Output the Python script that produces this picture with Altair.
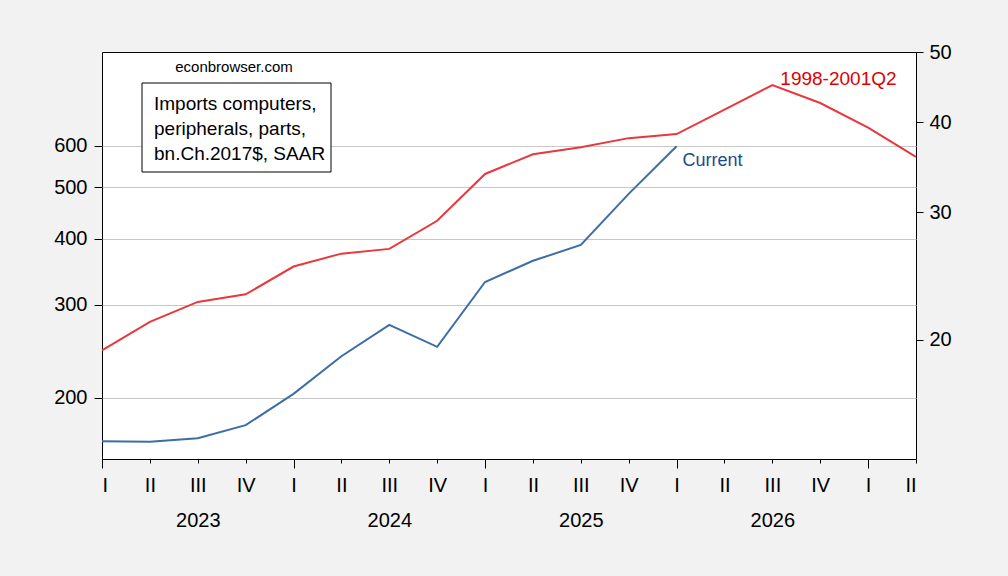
import altair as alt
import pandas as pd

# Quarter index: 0 = 2023Q1 ... 17 = 2027Q2
quarter_idx = list(range(18))

# Real imports of computers, peripherals and parts, bn. chained 2017$, SAAR (left axis)
current = [165.3, 164.9, 167.5, 177.3, 203.2, 239.5, 274.6, 249.5,
           331.0, 363.0, 389.0, 486.0, 598.0]

# Same series over 1998-2001Q2, aligned on the quarter index (right axis)
hist_1998 = [19.33, 21.16, 22.55, 23.10, 25.24, 26.3, 26.7, 29.2, 33.9,
             36.1, 36.9, 38.0, 38.5, 41.6, 45.0, 42.5, 39.3, 35.8]

roman = ["I", "II", "III", "IV"]
year_labels = [2023, 2024, 2025, 2026]
year_pos = [2, 6, 10, 14]
q1_pos = [0, 4, 8, 12, 16]
left_ticks = [200, 300, 400, 500, 600]
right_ticks = [20, 30, 40, 50]

BLUE = "#3d6da6"
RED = "#e8383d"
FONT = "Liberation Sans"

df_cur = pd.DataFrame({"q": quarter_idx[:len(current)], "v": current})
df_hist = pd.DataFrame({"q": quarter_idx, "v": hist_1998})
df_years = pd.DataFrame({"pos": year_pos, "year": year_labels})
df_cur_lbl = pd.DataFrame({"q": [quarter_idx[len(current) - 1]], "v": [current[-1]], "t": ["Current"]})
peak = max(range(len(hist_1998)), key=lambda i: hist_1998[i])
df_hist_lbl = pd.DataFrame({"q": [quarter_idx[peak]], "v": [hist_1998[peak]], "t": ["1998-2001Q2"]})
one = pd.DataFrame({"a": [0]})

xscale = alt.Scale(domain=[0, 17], nice=False, zero=False)
lscale = alt.Scale(type="log", domain=[153, 902], nice=False)
rscale = alt.Scale(type="log", domain=[13.67, 50], nice=False)

roman_expr = "[" + ",".join(f"'{r}'" for r in roman) + "][datum.value % 4]"
year_expr = "'' + (" + str(year_labels[0]) + " + floor(datum.value / 4))"

blue_line = alt.Chart(df_cur).mark_line(color=BLUE, strokeWidth=2).encode(
    x=alt.X("q:Q", scale=xscale, axis=alt.Axis(
        orient="bottom", values=quarter_idx, labelExpr=roman_expr, tickSize=4,
        labelPadding=12, domain=False, grid=False, title=None, labelAngle=0)),
    y=alt.Y("v:Q", scale=lscale, axis=alt.Axis(
        values=left_ticks, orient="left", grid=True, gridColor="#c8c8c8",
        tickSize=8, labelPadding=7, domain=False, title=None)),
)

red_line = alt.Chart(df_hist).mark_line(color=RED, strokeWidth=2).encode(
    x=alt.X("q:Q", scale=xscale, axis=alt.Axis(
        orient="bottom", values=q1_pos, tickSize=9, labels=False,
        domain=False, grid=False, title=None)),
    y=alt.Y("v:Q", scale=rscale, axis=alt.Axis(
        values=right_ticks, orient="right", grid=False, tickSize=7,
        labelPadding=6, domain=False, title=None)),
)

years = alt.Chart(df_years).mark_point(opacity=0).encode(
    x=alt.X("pos:Q", scale=xscale, axis=alt.Axis(
        orient="bottom", values=year_pos, labelExpr=year_expr,
        ticks=False, labelPadding=51, domain=False, grid=False, title=None)),
)

cur_lbl = alt.Chart(df_cur_lbl).mark_text(
    align="left", baseline="alphabetic", dx=6, dy=20, fontSize=18,
    font=FONT, color="#1a4a8a").encode(
    x=alt.X("q:Q", scale=xscale, axis=None),
    y=alt.Y("v:Q", scale=lscale, axis=None),
    text="t:N",
)

hist_lbl = alt.Chart(df_hist_lbl).mark_text(
    align="left", baseline="alphabetic", dx=8, dy=0, fontSize=19,
    font=FONT, color="#e00000").encode(
    x=alt.X("q:Q", scale=xscale, axis=None),
    y=alt.Y("v:Q", scale=rscale, axis=None),
    text="t:N",
)

box = alt.Chart(one).mark_rect(fill="white", stroke="black", strokeWidth=1).encode(
    x=alt.value(40), x2=alt.value(229), y=alt.value(31), y2=alt.value(120))

box_text = alt.Chart(one).mark_text(
    align="left", baseline="alphabetic", fontSize=19, font=FONT,
    lineHeight=25, color="black").encode(
    x=alt.value(52), y=alt.value(57.5),
    text=alt.value(["Imports computers,", "peripherals, parts,", "bn.Ch.2017$, SAAR"]))

source = alt.Chart(one).mark_text(
    align="center", baseline="alphabetic", fontSize=15, font=FONT, color="black").encode(
    x=alt.value(132), y=alt.value(20), text=alt.value("econbrowser.com"))

chart = alt.layer(
    blue_line, red_line, years, cur_lbl, hist_lbl, box, box_text, source
).resolve_scale(
    y="independent"
).resolve_axis(
    x="independent", y="independent"
).properties(
    width=814, height=407,
    padding={"left": 102, "top": 52, "right": 92, "bottom": 117},
    autosize=alt.AutoSizeParams(type="none"),
    background="#f2f2f2",
).configure_view(
    fill="white", stroke="black", strokeWidth=1,
).configure_axis(
    labelFont=FONT, labelFontSize=20, labelColor="black",
    tickColor="black", tickWidth=1,
)

chart.save("out.html", embed_options={"renderer": "svg", "actions": False})
